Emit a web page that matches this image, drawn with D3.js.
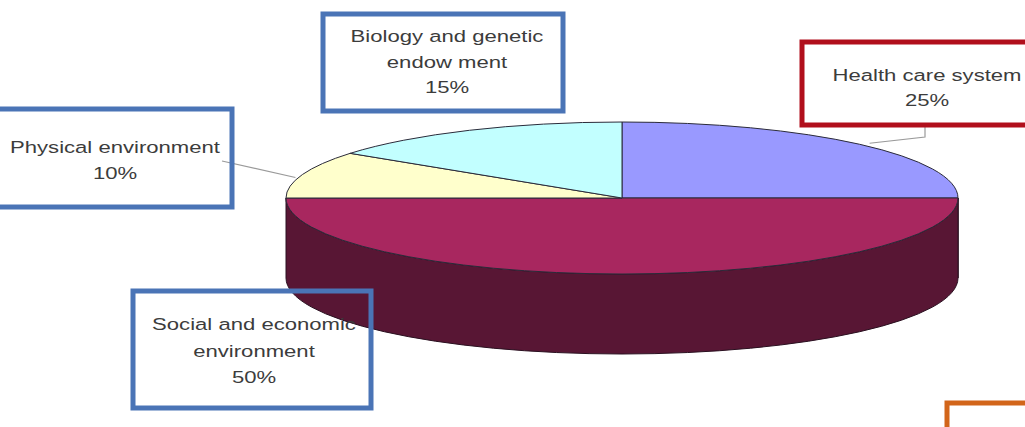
<!DOCTYPE html>
<html>
<head>
<meta charset="utf-8">
<script src="https://cdn.jsdelivr.net/npm/d3@7"></script>
<style>
  body { margin: 0; background: #fff; }
  text { font-family: 'Liberation Sans', Arial, sans-serif; fill: #3c3c3c; }
</style>
</head>
<body>
<div id="chart"></div>
<script>
// Slices in drawing order, clockwise from 12 o'clock
const categories = ['Health care system', 'Social and economic environment', 'Physical environment', 'Biology and genetic endowment'];
const values = [25, 50, 10, 15];
const topColors = ['#9999ff', '#a8275f', '#ffffcc', '#c2ffff'];
const sideColors = ['#6f6fc0', '#581634', '#c8c89a', '#90c8c8'];

// Label boxes (text lines per slice)
const labelLines = [
  ['Health care system', '25%'],
  ['Social and economic', 'environment', '50%'],
  ['Physical environment', '10%'],
  ['Biology and genetic', 'endow ment', '15%']
];

const W = 1025, H = 427;
const cx = 622, cy = 198, rx = 336, ry = 76, depth = 80;

const svg = d3.select('#chart').append('svg').attr('width', W).attr('height', H);

// Projection of the unit circle onto the tilted ellipse
const xScale = d3.scaleLinear().domain([-1, 1]).range([cx - rx, cx + rx]);
const yScale = d3.scaleLinear().domain([-1, 1]).range([cy - ry, cy + ry]);
const pt = (a, dy = 0) => [xScale(Math.sin(a)), yScale(-Math.cos(a)) + dy];

const pie = d3.pie().sort(null).startAngle(0).endAngle(2 * Math.PI);
const arcs = pie(values);

// Side walls (front half only)
const sides = svg.append('g');
arcs.forEach((d, i) => {
  const a0 = Math.max(d.startAngle, Math.PI / 2);
  const a1 = Math.min(d.endAngle, 3 * Math.PI / 2);
  if (a1 <= a0) return;
  const p0 = pt(a0), p1 = pt(a1);
  const large = a1 - a0 > Math.PI ? 1 : 0;
  const path = `M${p0}A${rx},${ry} 0 ${large} 1 ${p1}L${p1[0]},${p1[1] + depth}` +
    `A${rx},${ry} 0 ${large} 0 ${p0[0]},${p0[1] + depth}Z`;
  sides.append('path').attr('d', path)
    .attr('fill', sideColors[i]).attr('stroke', '#2a1020').attr('stroke-width', 1);
});

// Top faces
const tops = svg.append('g');
arcs.forEach((d, i) => {
  const p0 = pt(d.startAngle), p1 = pt(d.endAngle);
  const large = d.endAngle - d.startAngle > Math.PI ? 1 : 0;
  tops.append('path')
    .attr('d', `M${cx},${cy}L${p0}A${rx},${ry} 0 ${large} 1 ${p1}Z`)
    .attr('fill', topColors[i]).attr('stroke', '#2b2b3a').attr('stroke-width', 1);
});

// Label boxes: [x, y, width, height, stroke colour, text centre x, first baseline, line step]
const boxes = [
  [802, 42, 240, 83, '#b10f1c', 927, 81, 25],
  [133, 291, 238, 117, '#4a74b6', 254, 330, 26.5],
  [-20, 109, 252, 98, '#4a74b6', 115, 153, 26],
  [323, 14, 240, 97, '#4a74b6', 447, 42, 25.5]
];

// Leader lines from boxes to slice rims
const leaders = svg.append('g').attr('stroke', '#9a9a9a').attr('stroke-width', 1.2).attr('fill', 'none');
const mid = (d) => (d.startAngle + d.endAngle) / 2;
const pHealth = pt(mid(arcs[0]));
leaders.append('polyline').attr('points', `925,125 925,137 ${pHealth[0] + 10},${pHealth[1] - 1}`);
const pPhys = pt(mid(arcs[2]));
leaders.append('line').attr('x1', 222).attr('y1', 161).attr('x2', pPhys[0] - 7).attr('y2', pPhys[1] + 3);

const lab = svg.append('g');
boxes.forEach((b, i) => {
  lab.append('rect')
    .attr('x', b[0]).attr('y', b[1]).attr('width', b[2]).attr('height', b[3])
    .attr('fill', 'none').attr('stroke', b[4]).attr('stroke-width', 5);
  labelLines[i].forEach((t, j) => {
    lab.append('text')
      .attr('transform', `translate(${b[5]},${b[6] + j * b[7]}) scale(1.3,1)`)
      .attr('text-anchor', 'middle').attr('font-size', 17)
      .text(t);
  });
});

// Partial orange box at bottom right edge
lab.append('path').attr('d', 'M947,427V403H1030')
  .attr('fill', 'none').attr('stroke', '#d2651a').attr('stroke-width', 5);
</script>
</body>
</html>
